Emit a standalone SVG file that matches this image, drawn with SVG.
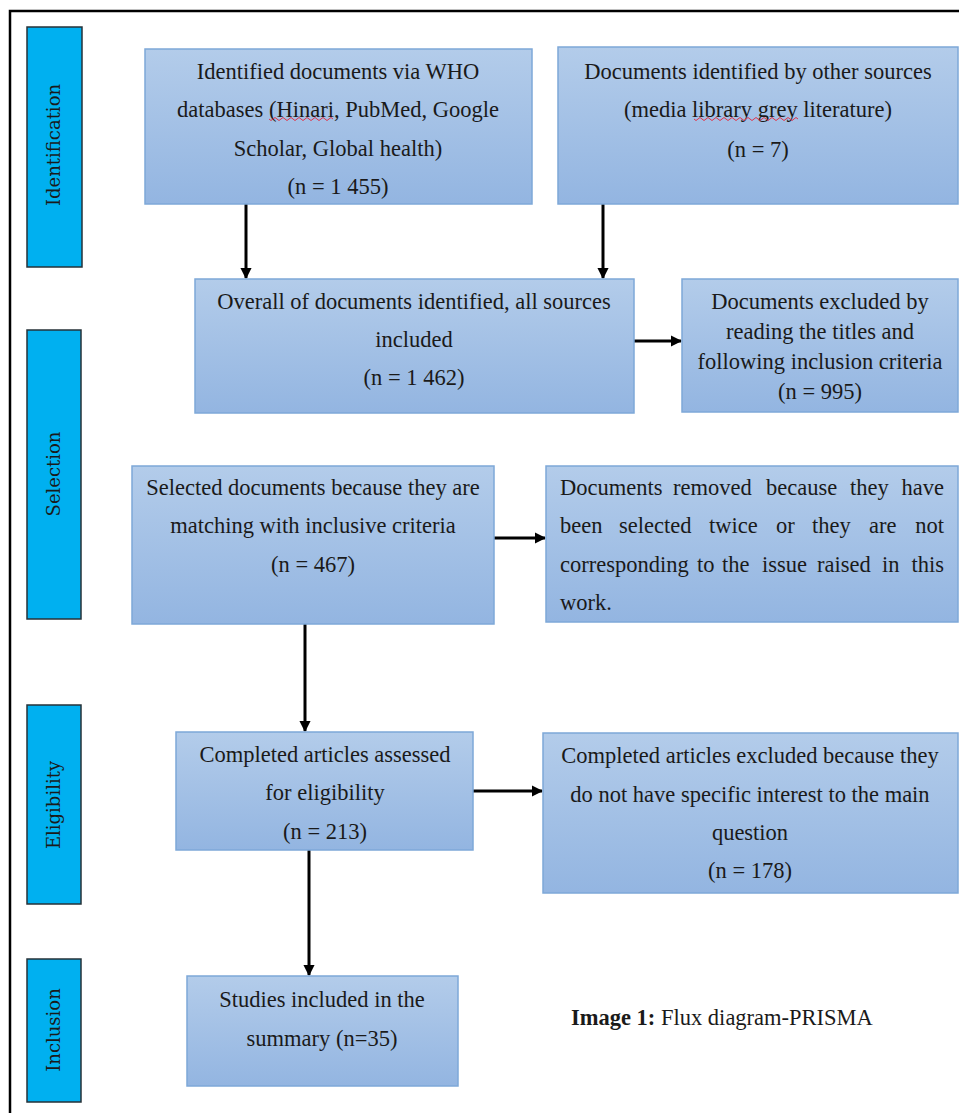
<svg xmlns="http://www.w3.org/2000/svg" width="959" height="1113" viewBox="0 0 959 1113">
<defs>
<linearGradient id="g" x1="0" y1="0" x2="0" y2="1">
<stop offset="0" stop-color="#B3CCEA"/>
<stop offset="1" stop-color="#93B5E1"/>
</linearGradient>
<marker id="ah" viewBox="0 0 10 10" refX="9" refY="5" markerWidth="3.7" markerHeight="3.7" orient="auto" markerUnits="strokeWidth">
<path d="M0,0 L10,5 L0,10 z" fill="#000"/>
</marker>
<style>
.box{fill:url(#g);stroke:#7EA8D8;stroke-width:1.5}
.side{fill:#00B0F0;stroke:#263238;stroke-width:1.5}
.t{font-family:"Liberation Serif","Times New Roman",serif;font-size:22.5px;fill:#1a1a1a;text-anchor:middle}
.tl{font-family:"Liberation Serif","Times New Roman",serif;font-size:22.5px;fill:#1a1a1a}
.te{font-family:"Liberation Serif","Times New Roman",serif;font-size:22.5px;fill:#1a1a1a;text-anchor:end}
.s{font-family:"DejaVu Serif",serif;font-size:18px;fill:#1a1a1a;text-anchor:middle}
.c{stroke:#000;stroke-width:3;fill:none;marker-end:url(#ah)}
.sq{stroke:#E0334A;stroke-width:1;fill:none}
</style>
</defs>
<rect width="959" height="1113" fill="#fff"/>
<path d="M10,1113 V11 H959" fill="none" stroke="#000" stroke-width="2.5"/>

<g id="lane-identification">
<rect class="side" x="27" y="27" width="55" height="240"/>
<text class="s" transform="translate(60,145) rotate(-90)">Identification</text>
</g>
<g id="lane-selection">
<rect class="side" x="27" y="330" width="54" height="289"/>
<text class="s" transform="translate(60,474) rotate(-90)">Selection</text>
</g>
<g id="lane-eligibility">
<rect class="side" x="27" y="705" width="54" height="199"/>
<text class="s" transform="translate(60,805) rotate(-90)">Eligibility</text>
</g>
<g id="lane-inclusion">
<rect class="side" x="27" y="959" width="54" height="143"/>
<text class="s" transform="translate(60,1030) rotate(-90)">Inclusion</text>
</g>

<g id="connectors">
<line class="c" x1="246" y1="204" x2="246" y2="278"/>
<line class="c" x1="603" y1="204" x2="603" y2="278"/>
<line class="c" x1="634" y1="341" x2="681" y2="341"/>
<line class="c" x1="494" y1="538" x2="545" y2="538"/>
<line class="c" x1="305" y1="624" x2="305" y2="731"/>
<line class="c" x1="473" y1="791" x2="542" y2="791"/>
<line class="c" x1="309" y1="850" x2="309" y2="975"/>
</g>

<g id="who">
<rect class="box" x="145" y="49" width="387" height="155"/>
<text class="t" x="338" y="79">Identified documents via WHO</text>
<text class="t" x="338" y="117">databases (Hinari, PubMed, Google</text>
<text class="t" x="338" y="156">Scholar, Global health)</text>
<text class="t" x="338" y="194">(n = 1 455)</text>
<path class="sq" d="M269,119 q2,3 4,0 t4,0 t4,0 t4,0 t4,0 t4,0 t4,0 t4,0 t4,0 t4,0 t4,0 t4,0 t4,0 t4,0 t4,0 t4,0"/>
</g>
<g id="other">
<rect class="box" x="558" y="47" width="400" height="157"/>
<text class="t" x="758" y="79">Documents identified by other sources</text>
<text class="t" x="758" y="117">(media library grey literature)</text>
<text class="t" x="758" y="157">(n = 7)</text>
<path class="sq" d="M694,119 q2,3 4,0 t4,0 t4,0 t4,0 t4,0 t4,0 t4,0 t4,0 t4,0 t4,0 t4,0 t4,0 t4,0 t4,0 t4,0 t4,0 t4,0 t4,0 t4,0 t4,0 t4,0 t4,0 t4,0 t4,0 t4,0 t4,0"/>
</g>
<g id="overall">
<rect class="box" x="195" y="279" width="439" height="134"/>
<text class="t" x="414" y="309">Overall of documents identified, all sources</text>
<text class="t" x="414" y="347">included</text>
<text class="t" x="414" y="385">(n = 1 462)</text>
</g>
<g id="excluded-titles">
<rect class="box" x="682" y="279" width="276" height="133"/>
<text class="t" x="820" y="309">Documents excluded by</text>
<text class="t" x="820" y="339">reading the titles and</text>
<text class="t" x="820" y="369">following inclusion criteria</text>
<text class="t" x="820" y="399">(n = 995)</text>
</g>
<g id="selected">
<rect class="box" x="132" y="466" width="362" height="158"/>
<text class="t" x="313" y="495">Selected documents because they are</text>
<text class="t" x="313" y="533">matching with inclusive criteria</text>
<text class="t" x="313" y="572">(n = 467)</text>
</g>
<g id="removed">
<rect class="box" x="546" y="466" width="412" height="156"/>
<text class="tl" y="495"><tspan x="560">Documents</tspan><tspan x="673">removed</tspan><tspan x="766">because</tspan><tspan x="850">they</tspan></text>
<text class="te" x="944" y="495">have</text>
<text class="tl" y="533"><tspan x="560">been</tspan><tspan x="619">selected</tspan><tspan x="709">twice</tspan><tspan x="776">or</tspan><tspan x="812">they</tspan><tspan x="869">are</tspan></text>
<text class="te" x="944" y="533">not</text>
<text class="tl" y="572"><tspan x="560">corresponding</tspan><tspan x="697">to</tspan><tspan x="722">the</tspan><tspan x="762">issue</tspan><tspan x="817">raised</tspan><tspan x="882">in</tspan></text>
<text class="te" x="944" y="572">this</text>
<text class="tl" x="560" y="610">work.</text>
</g>
<g id="assessed">
<rect class="box" x="176" y="732" width="297" height="118"/>
<text class="t" x="325" y="762">Completed articles assessed</text>
<text class="t" x="325" y="800">for eligibility</text>
<text class="t" x="325" y="839">(n = 213)</text>
</g>
<g id="excluded-articles">
<rect class="box" x="543" y="733" width="415" height="160"/>
<text class="t" x="750" y="763">Completed articles excluded because they</text>
<text class="t" x="750" y="802">do not have specific interest to the main</text>
<text class="t" x="750" y="840">question</text>
<text class="t" x="750" y="878">(n = 178)</text>
</g>
<g id="studies">
<rect class="box" x="187" y="976" width="271" height="110"/>
<text class="t" x="322" y="1007">Studies included in the</text>
<text class="t" x="322" y="1046">summary (n=35)</text>
</g>
<g id="caption">
<text class="tl" x="571" y="1025"><tspan font-weight="bold">Image 1:</tspan> Flux diagram-PRISMA</text>
</g>
</svg>
